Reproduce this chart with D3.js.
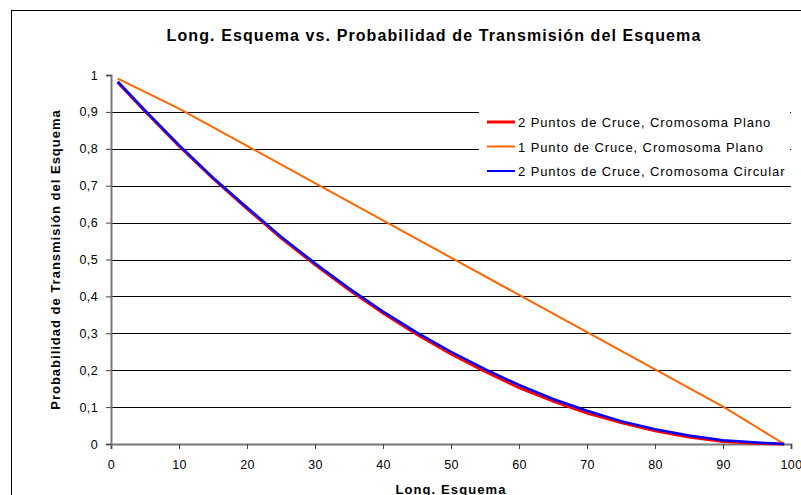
<!DOCTYPE html>
<html>
<head>
<meta charset="utf-8">
<script src="https://cdn.jsdelivr.net/npm/d3@7"></script>
<style>
  body { margin: 0; background: #fff; }
  svg { display: block; font-family: Arial, "Liberation Sans", sans-serif; }
</style>
</head>
<body>
<div class="chart"></div>
<script>
var margin = {top: 75, right: 10, bottom: 51, left: 111};
var width = 801 - margin.left - margin.right;
var height = 495 - margin.top - margin.bottom;

// schema length
var lenRed = [1, 5, 10, 15, 20, 25, 30, 35, 40, 45, 50, 55, 60, 65, 70, 75, 80, 85, 90, 95, 99];
var probRed = [0.980, 0.902, 0.808, 0.720, 0.638, 0.559, 0.486, 0.418, 0.355, 0.297, 0.244, 0.197, 0.153, 0.116, 0.084, 0.058, 0.036, 0.019, 0.007, 0.002, 0];

var lenOrange = [1, 10, 20, 30, 40, 50, 60, 70, 80, 90, 99];
var probOrange = [0.99, 0.909, 0.808, 0.707, 0.606, 0.505, 0.404, 0.303, 0.202, 0.101, 0];

var lenBlue = [1, 5, 10, 15, 20, 25, 30, 35, 40, 45, 50, 55, 60, 65, 70, 75, 80, 85, 90, 95, 99];
var probBlue = [0.982, 0.904, 0.810, 0.722, 0.641, 0.562, 0.490, 0.422, 0.359, 0.302, 0.250, 0.203, 0.160, 0.122, 0.090, 0.062, 0.040, 0.023, 0.010, 0.004, 0];

var seriesNames = ["2 Puntos de Cruce, Cromosoma Plano", "1 Punto de Cruce, Cromosoma Plano", "2 Puntos de Cruce, Cromosoma Circular"];
var seriesColors = ["#ff0000", "#ff6600", "#0000ff"];

var xTicks = [0, 10, 20, 30, 40, 50, 60, 70, 80, 90, 100];
var yTicks = [0, 0.1, 0.2, 0.3, 0.4, 0.5, 0.6, 0.7, 0.8, 0.9, 1];

var svgRoot = d3.select(".chart")
  .append("svg")
  .attr("width", 801)
  .attr("height", 495);

// outer chart border (cut off on right and bottom)
svgRoot.append("rect")
  .attr("x", 11.5).attr("y", 10.5)
  .attr("width", 900).attr("height", 600)
  .attr("fill", "#fff")
  .attr("stroke", "#000");

svgRoot.append("text")
  .attr("x", 434).attr("y", 41)
  .attr("text-anchor", "middle")
  .style("font-size", "16px").style("font-weight", "bold")
  .style("letter-spacing", "1.1px")
  .text("Long. Esquema vs. Probabilidad de Transmisión del Esquema");

var mySvg = svgRoot.append("g")
  .attr("transform", "translate(" + margin.left + "," + margin.top + ")");

var x = d3.scaleLinear().domain([0, 100]).range([0, width]);
var y = d3.scaleLinear().domain([0, 1]).range([height, 0]);

// gridlines
mySvg.selectAll(".grid")
  .data(yTicks.filter(function(d) { return d > 0 && d < 1; }))
  .enter().append("line")
  .attr("class", "grid")
  .attr("x1", 0).attr("x2", width)
  .attr("y1", function(d) { return Math.round(y(d)) + 0.5; })
  .attr("y2", function(d) { return Math.round(y(d)) + 0.5; })
  .attr("stroke", "#000");

var fmt = function(d) { return String(d3.format(".1~f")(d)).replace(".", ","); };

var xAxis = mySvg.append("g")
  .attr("transform", "translate(0," + height + ")")
  .call(d3.axisBottom(x).tickValues(xTicks).tickSize(5).tickPadding(11).tickFormat(d3.format("d")));

var yAxis = mySvg.append("g")
  .call(d3.axisLeft(y).tickValues(yTicks).tickSize(5).tickPadding(8).tickFormat(fmt));

[xAxis, yAxis].forEach(function(a) {
  a.select(".domain").attr("stroke", "#777").attr("stroke-width", 2);
  a.selectAll(".tick line").attr("stroke", "#444");
  a.selectAll(".tick text").attr("fill", "#000")
    .style("font-size", "12.5px").style("letter-spacing", "0.4px")
    .style("font-family", "Arial, 'Liberation Sans', sans-serif");
});

var line = d3.line()
  .x(function(d) { return x(d[0]); })
  .y(function(d) { return y(d[1]); });

var seriesData = [
  d3.zip(lenRed, probRed),
  d3.zip(lenOrange, probOrange),
  d3.zip(lenBlue, probBlue)
];
var seriesWidths = [3, 2, 2.5];

[0, 1, 2].forEach(function(i) {
  mySvg.append("path")
    .datum(seriesData[i])
    .attr("fill", "none")
    .attr("stroke", seriesColors[i])
    .attr("stroke-width", seriesWidths[i])
    .attr("d", line);
});

// legend
var legend = svgRoot.append("g");
legend.append("rect")
  .attr("x", 479).attr("y", 106)
  .attr("width", 311).attr("height", 76)
  .attr("fill", "#fff");

seriesNames.forEach(function(name, i) {
  var ly = 122 + i * 24.5;
  legend.append("line")
    .attr("x1", 487).attr("x2", 515)
    .attr("y1", ly).attr("y2", ly)
    .attr("stroke", seriesColors[i])
    .attr("stroke-width", i == 0 ? 3 : 2);
  legend.append("text")
    .attr("x", 518).attr("y", ly + 5)
    .style("font-size", "13px").style("letter-spacing", "0.9px")
    .text(name);
});

// axis titles
svgRoot.append("text")
  .attr("x", 451).attr("y", 494)
  .attr("text-anchor", "middle")
  .style("font-size", "13px").style("font-weight", "bold")
  .style("letter-spacing", "1.1px")
  .text("Long. Esquema");

svgRoot.append("text")
  .attr("transform", "translate(60," + (margin.top + height / 2) + ") rotate(-90)")
  .attr("text-anchor", "middle")
  .style("font-size", "13px").style("font-weight", "bold")
  .style("letter-spacing", "1px")
  .text("Probabilidad de Transmisión del Esquema");
</script>
</body>
</html>
